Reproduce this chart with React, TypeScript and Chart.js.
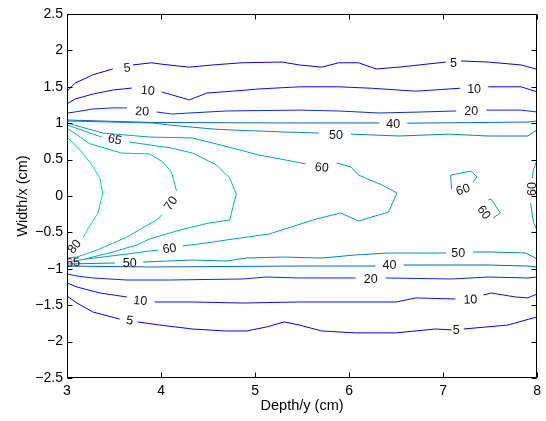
import React, { useEffect, useRef } from "react";
import { Chart, registerables } from "chart.js";
Chart.register(...registerables);

type Pt = [number, number] | null;

const xTicks = [3, 4, 5, 6, 7, 8];
const yTicks = [-2.5, -2, -1.5, -1, -0.5, 0, 0.5, 1, 1.5, 2, 2.5];

// contour polylines (x = depth, y = width); null = gap where a label sits
const c5Top: Pt[] = [[3,1.44],[3.085,1.55],[3.275,1.665],[3.487,1.745],null,[3.70,1.80],[3.90,1.83],[4.01,1.81],[4.30,1.77],[4.55,1.80],[4.86,1.83],[5.29,1.84],[5.47,1.80],[5.71,1.77],[5.89,1.83],[6.10,1.83],[6.29,1.745],[6.53,1.77],[7.03,1.84],null,[7.19,1.855],[7.48,1.84],[7.83,1.80],[8,1.74]];
const c10Top: Pt[] = [[3,1.264],[3.085,1.332],[3.275,1.40],[3.487,1.456],[3.689,1.483],null,[4.006,1.43],[4.30,1.32],[4.49,1.415],[4.76,1.44],[5.04,1.47],[5.47,1.50],[5.89,1.50],[6.24,1.48],[6.71,1.44],[7.18,1.48],null,[7.48,1.50],[7.83,1.50],[8,1.43]];
const c20Top: Pt[] = [[3,1.14],[3.085,1.154],[3.275,1.195],[3.487,1.21],[3.636,1.21],null,[3.953,1.154],[4.12,1.126],[4.30,1.14],[4.695,1.168],[5.47,1.18],[5.89,1.168],[6.32,1.14],[6.77,1.154],[7.14,1.168],null,[7.46,1.18],[7.83,1.18],[8,1.154]];
const c40Top: Pt[] = [[3,1.044],[3.9,1.01],[5.47,1.003],[6.32,1.003],null,[6.62,1.0],[7.90,1.016],[8,1.03]];
const c50Top: Pt[] = [[3,1.03],[3.91,1.003],[4.09,0.975],[4.55,0.92],[4.76,0.907],[5.29,0.88],[5.68,0.865],null,[6.02,0.85],[6.53,0.824],[7.06,0.85],[7.48,0.824],[7.90,0.824],[8,0.907]];
const c60Main: Pt[] = [[3,1.003],[3.38,0.865],[3.88,0.81],[4.335,0.797],[4.76,0.659],[5.04,0.563],[5.44,0.467],[5.54,0.44],null,[5.87,0.453],[6.02,0.398],[6.10,0.288],[6.35,0.151],[6.51,0.041],[6.42,-0.22],[6.10,-0.343],[5.91,-0.234],[5.65,-0.316],[5.15,-0.522],[4.695,-0.604],[4.48,-0.646],[4.23,-0.687],null,[3.97,-0.742],[3.56,-0.81],[3.21,-0.865],[3,-0.907]];
const c65: Pt[] = [[3,0.975],[3.37,0.81],null,[3.66,0.742],[4.11,0.659],[4.335,0.59],[4.59,0.426],[4.73,0.247],[4.80,0.027],[4.73,-0.33],[4.51,-0.371],[4.20,-0.467],[3.88,-0.59],[3.74,-0.673],[3.49,-0.769],[3.19,-0.865]];
const c70: Pt[] = [[3,0.934],[3.24,0.72],[3.58,0.59],[3.88,0.577],[4.02,0.467],[4.11,0.33],[4.165,0.069],null,[4.01,-0.26],[3.95,-0.33],[3.80,-0.44],[3.64,-0.563],[3.32,-0.742],[3.106,-0.838],[3,-0.852]];
const c80: Pt[] = [[3,0.81],[3.14,0.632],[3.265,0.426],[3.35,0.247],[3.38,0.041],[3.33,-0.234],[3.24,-0.412],[3.17,-0.577]];
const c50Bot: Pt[] = [[3,-0.934],[3.51,-0.92],null,[3.81,-0.907],[4.335,-0.879],[4.695,-0.893],[4.907,-0.852],[5.29,-0.838],[5.71,-0.852],[6.07,-0.81],[6.42,-0.783],[7.03,-0.783],null,[7.32,-0.769],[7.51,-0.769],[7.88,-0.783],[8,-0.865]];
const c40Bot: Pt[] = [[3,-0.962],[3.88,-0.975],[5.47,-0.962],[6.28,-0.962],null,[6.58,-0.948],[7.48,-0.948],[7.90,-0.962],[8,-0.975]];
const c20Bot: Pt[] = [[3,-1.071],[3.106,-1.099],[3.275,-1.126],[3.636,-1.154],[4.09,-1.154],[4.865,-1.14],[5.12,-1.113],[5.47,-1.126],[6.07,-1.126],null,[6.39,-1.126],[7.09,-1.14],[7.48,-1.113],[7.90,-1.126],[8,-1.113]];
const c10Bot: Pt[] = [[3,-1.195],[3.106,-1.25],[3.35,-1.332],[3.636,-1.387],null,[3.93,-1.456],[4.335,-1.456],[4.865,-1.47],[5.47,-1.456],[6.50,-1.456],[6.71,-1.40],[7.13,-1.415],null,[7.43,-1.36],[7.51,-1.332],[7.77,-1.387],[7.90,-1.40],[8,-1.346]];
const c5Bot: Pt[] = [[3,-1.374],[3.106,-1.47],[3.275,-1.593],[3.56,-1.69],null,[3.75,-1.73],[3.985,-1.772],[4.335,-1.827],[4.695,-1.854],[4.907,-1.854],[5.12,-1.80],[5.31,-1.73],[5.47,-1.772],[5.71,-1.854],[6.07,-1.88],[6.50,-1.88],[6.92,-1.827],[7.09,-1.84],null,[7.22,-1.827],[7.69,-1.772],[8,-1.66]];
const c60SmallA: Pt[] = [[7.09,0.096],[7.08,0.288],[7.30,0.343],[7.36,0.261],[7.32,0.192]];
const c60SmallB: Pt[] = [[7.48,-0.055],[7.51,-0.041],[7.61,-0.234],[7.53,-0.302]];
const c60Edge: Pt[] = [[8,0.495],[7.96,0.357],[7.95,0.247],null,[7.93,-0.096],[7.96,-0.357],[8,-0.467]];

const contourLines: Pt[][] = [c5Top, c10Top, c20Top, c40Top, c50Top, c60Main, c65, c70, c80, c50Bot, c40Bot, c20Bot, c10Bot, c5Bot, c60SmallA, c60SmallB, c60Edge];
const contourLevels = [5, 10, 20, 40, 50, 60, 65, 70, 80, 50, 40, 20, 10, 5, 60, 60, 60];

// inline contour labels
const labelText = ["5","10","20","65","70","80","65","60","50","10","5","60","50","40","5","10","20","40","20","50","10","5","60","60","60"];
const labelX = [3.64,3.86,3.80,3.51,4.10,3.074,3.064,4.09,3.667,3.78,3.667,5.71,5.86,6.47,7.11,7.33,7.30,6.43,6.23,7.16,7.29,7.14,7.21,7.44,7.94];
const labelY = [1.77,1.456,1.17,0.783,-0.096,-0.687,-0.907,-0.714,-0.92,-1.43,-1.70,0.40,0.85,0.99,1.84,1.48,1.168,-0.948,-1.14,-0.77,-1.415,-1.84,0.096,-0.22,0.096];
const labelRot = [-5,5,3,12,-55,-50,-5,-8,0,5,8,5,0,0,0,0,0,0,0,0,-3,0,-18,55,-90];

const FONT = '"Liberation Sans", Arial, Helvetica, sans-serif';

function levelColor(level: number): string {
  const t = (level - 5) / 85;
  return `rgb(0, ${Math.round(255 * t)}, ${Math.round(255 * (1 - t / 2))})`;
}

function fmt(v: number): string {
  return (v < 0 ? "\u2212" : "") + String(Math.abs(v));
}

const decoPlugin = {
  id: "contourDeco",
  afterDatasetsDraw(chart: any) {
    const { ctx, chartArea, scales } = chart;
    const { left, right, top, bottom } = chartArea;
    const xs = scales.x, ys = scales.y;
    ctx.save();
    ctx.beginPath();
    ctx.rect(left, top, right - left, bottom - top);
    ctx.clip();
    ctx.font = `12.5px ${FONT}`;
    ctx.fillStyle = "#111";
    ctx.textAlign = "center";
    ctx.textBaseline = "middle";
    for (let i = 0; i < labelText.length; i++) {
      ctx.save();
      ctx.translate(xs.getPixelForValue(labelX[i]), ys.getPixelForValue(labelY[i]));
      ctx.rotate((labelRot[i] * Math.PI) / 180);
      ctx.fillText(labelText[i], 0, 1);
      ctx.restore();
    }
    ctx.restore();

    ctx.save();
    ctx.strokeStyle = "#000";
    ctx.lineWidth = 1;
    const L = Math.round(left) + 0.5, R = Math.round(right) - 0.5;
    const T = Math.round(top) + 0.5, B = Math.round(bottom) - 0.5;
    ctx.strokeRect(L, T, R - L, B - T);
    ctx.beginPath();
    const tl = 5;
    for (const v of xTicks) {
      const px = Math.round(xs.getPixelForValue(v)) + 0.5;
      ctx.moveTo(px, B); ctx.lineTo(px, B - tl);
      ctx.moveTo(px, T); ctx.lineTo(px, T + tl);
    }
    for (const v of yTicks) {
      const py = Math.round(ys.getPixelForValue(v)) + 0.5;
      ctx.moveTo(L, py); ctx.lineTo(L + tl, py);
      ctx.moveTo(R, py); ctx.lineTo(R - tl, py);
    }
    ctx.stroke();
    ctx.restore();
  },
};

export default function App() {
  const ref = useRef<HTMLCanvasElement | null>(null);
  useEffect(() => {
    if (!ref.current) return;
    const datasets: any[] = [];
    contourLines.forEach((line, i) => {
      let seg: { x: number; y: number }[] = [];
      const flush = () => {
        if (seg.length > 1) {
          datasets.push({
            data: seg,
            showLine: true,
            pointRadius: 0,
            borderWidth: 1,
            borderColor: levelColor(contourLevels[i]),
            backgroundColor: levelColor(contourLevels[i]),
            fill: false,
            tension: 0,
          });
        }
        seg = [];
      };
      for (const p of line) {
        if (p === null) flush();
        else seg.push({ x: p[0], y: p[1] });
      }
      flush();
    });

    const chart = new Chart(ref.current, {
      type: "scatter",
      data: { datasets },
      options: {
        responsive: false,
        animation: false,
        layout: { padding: { left: 0, right: 7, top: 14, bottom: 0 } },
        plugins: { legend: { display: false }, tooltip: { enabled: false } },
        scales: {
          x: {
            type: "linear",
            min: 3,
            max: 8,
            grid: { display: false, drawTicks: false },
            border: { display: false },
            afterBuildTicks: (s: any) => { s.ticks = xTicks.map((v) => ({ value: v })); },
            ticks: { padding: 5, color: "#000", font: { size: 14, family: FONT }, maxRotation: 0, autoSkip: false, callback: (v: any) => fmt(Number(v)) },
            title: { display: true, text: "Depth/y (cm)", color: "#000", font: { size: 14.5, family: FONT }, padding: { top: 0, bottom: 6 } },
            afterFit: (s: any) => { s.height = 43; },
          },
          y: {
            type: "linear",
            min: -2.5,
            max: 2.5,
            grid: { display: false, drawTicks: false },
            border: { display: false },
            afterBuildTicks: (s: any) => { s.ticks = yTicks.map((v) => ({ value: v })); },
            ticks: { padding: 4, color: "#000", font: { size: 14, family: FONT }, autoSkip: false, callback: (v: any) => fmt(Number(v)) },
            title: { display: true, text: "Width/x (cm)", color: "#000", font: { size: 14.5, family: FONT }, padding: { top: 14, bottom: 0 } },
            afterFit: (s: any) => { s.width = 67; },
          },
        },
      },
      plugins: [decoPlugin],
    });
    return () => chart.destroy();
  }, []);

  return (
    <div style={{ position: "fixed", left: 0, top: 0, width: 546, height: 421, background: "#fff" }}>
      <canvas ref={ref} width={546} height={421} style={{ display: "block", width: 546, height: 421 }} />
    </div>
  );
}
